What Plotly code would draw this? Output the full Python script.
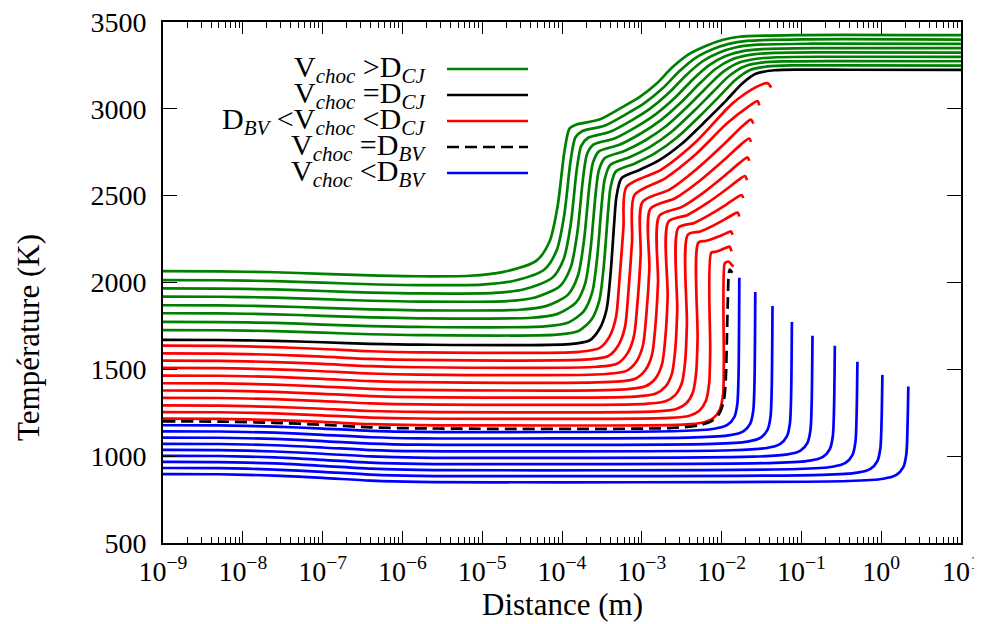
import plotly.graph_objects as go

# ---------------- data (log10 of distance in m, temperature in K) ----------------
early_lx = [-9.0, -8.3, -7.6, -7.0, -6.4, -5.8]

# V_choc > D_CJ (green)
green_early_T = [
    [2065, 2064, 2059, 2050, 2041, 2036],
    [2014, 2013, 2008, 1999, 1990, 1985],
    [1966, 1965, 1960, 1951, 1942, 1937],
    [1919, 1918, 1913, 1904, 1895, 1890],
    [1869, 1868, 1863, 1854, 1845, 1840],
    [1823, 1822, 1817, 1808, 1799, 1794],
    [1773, 1772, 1767, 1758, 1749, 1744],
    [1726, 1725, 1720, 1711, 1702, 1697],
]
green_lx = [
    [-5.158, -4.745, -4.319, -4.156, -4.056, -3.969, -3.906, -3.818, -3.531, -3.243, -3.030, -2.817, -2.617, -2.404, -2.191, -1.991, -1.778, -1.027, 1.0],
    [-5.002, -4.609, -4.221, -4.067, -3.973, -3.891, -3.833, -3.748, -3.468, -3.185, -2.963, -2.739, -2.533, -2.321, -2.113, -1.910, -1.684, -0.949, 1.0],
    [-4.845, -4.473, -4.122, -3.978, -3.890, -3.813, -3.759, -3.677, -3.406, -3.127, -2.896, -2.661, -2.448, -2.238, -2.035, -1.828, -1.590, -0.871, 1.0],
    [-4.689, -4.337, -4.024, -3.889, -3.807, -3.734, -3.686, -3.607, -3.343, -3.069, -2.828, -2.582, -2.364, -2.155, -1.956, -1.747, -1.496, -0.793, 1.0],
    [-4.532, -4.201, -3.925, -3.800, -3.725, -3.656, -3.612, -3.537, -3.281, -3.012, -2.761, -2.504, -2.279, -2.073, -1.878, -1.666, -1.403, -0.715, 1.0],
    [-4.376, -4.064, -3.827, -3.710, -3.642, -3.578, -3.539, -3.466, -3.218, -2.954, -2.694, -2.426, -2.195, -1.990, -1.800, -1.584, -1.309, -0.636, 1.0],
    [-4.219, -3.928, -3.728, -3.621, -3.559, -3.500, -3.465, -3.396, -3.155, -2.896, -2.627, -2.348, -2.110, -1.907, -1.722, -1.503, -1.215, -0.558, 1.0],
    [-4.063, -3.792, -3.630, -3.532, -3.476, -3.421, -3.392, -3.325, -3.093, -2.838, -2.559, -2.269, -2.026, -1.824, -1.643, -1.421, -1.121, -0.480, 1.0],
]
green_T = [
    [2039, 2060, 2126, 2236, 2436, 2756, 2886, 2910, 2938, 3010, 3067, 3144, 3239, 3316, 3363, 3396, 3415, 3425, 3424],
    [1988, 2009, 2075, 2185, 2385, 2705, 2835, 2871, 2902, 2972, 3034, 3118, 3215, 3295, 3343, 3374, 3391, 3400, 3399],
    [1940, 1961, 2027, 2137, 2337, 2657, 2787, 2832, 2866, 2934, 3001, 3092, 3192, 3274, 3323, 3353, 3368, 3375, 3374],
    [1893, 1914, 1980, 2090, 2290, 2610, 2740, 2794, 2829, 2896, 2968, 3065, 3168, 3252, 3303, 3331, 3344, 3350, 3349],
    [1843, 1864, 1930, 2040, 2240, 2560, 2690, 2755, 2793, 2858, 2935, 3039, 3144, 3231, 3283, 3309, 3321, 3325, 3324],
    [1797, 1818, 1884, 1994, 2194, 2514, 2644, 2716, 2757, 2819, 2901, 3013, 3120, 3210, 3263, 3287, 3297, 3300, 3299],
    [1747, 1768, 1834, 1944, 2144, 2464, 2594, 2677, 2721, 2781, 2868, 2987, 3097, 3189, 3243, 3266, 3273, 3275, 3274],
    [1700, 1721, 1787, 1897, 2097, 2417, 2547, 2639, 2684, 2743, 2835, 2960, 3073, 3167, 3223, 3244, 3250, 3250, 3249],
]

# V_choc = D_CJ (black)
black_early_T = [1670, 1669, 1664, 1656, 1647, 1642]
black_lx = [-3.906, -3.656, -3.531, -3.443, -3.393, -3.343, -3.318, -3.255, -3.030, -2.780, -2.492, -2.191, -1.941, -1.741, -1.565, -1.340, -1.027, -0.402, 1.0]
black_T = [1645, 1666, 1732, 1842, 2042, 2362, 2492, 2600, 2648, 2705, 2802, 2934, 3049, 3146, 3203, 3222, 3226, 3225, 3224]

# D_BV < V_choc < D_CJ (red)
red_early_T = [
    [1636, 1635, 1628, 1617, 1604, 1598],
    [1592, 1591, 1584, 1573, 1560, 1554],
    [1550, 1549, 1542, 1531, 1518, 1512],
    [1508, 1507, 1500, 1489, 1476, 1470],
    [1464, 1463, 1456, 1445, 1432, 1426],
    [1420, 1419, 1412, 1401, 1388, 1382],
    [1378, 1377, 1370, 1359, 1346, 1340],
    [1336, 1335, 1328, 1317, 1304, 1298],
    [1292, 1291, 1284, 1273, 1260, 1255],
    [1254, 1253, 1246, 1235, 1222, 1217],
    [1216, 1215, 1208, 1197, 1184, 1179],
]
red_lx = [
    [-3.781, -3.531, -3.405, -3.324, -3.283, -3.230, -3.193, -2.755, -2.310, -1.866, -1.569, -1.428, -1.378],
    [-3.668, -3.418, -3.293, -3.211, -3.170, -3.122, -3.092, -2.707, -2.320, -1.935, -1.673, -1.549, -1.528],
    [-3.556, -3.305, -3.180, -3.099, -3.057, -3.014, -2.992, -2.652, -2.311, -1.972, -1.741, -1.632, -1.603],
    [-3.443, -3.193, -3.067, -2.986, -2.945, -2.905, -2.892, -2.582, -2.273, -1.963, -1.752, -1.653, -1.632],
    [-3.330, -3.080, -2.955, -2.873, -2.832, -2.797, -2.780, -2.503, -2.226, -1.951, -1.763, -1.674, -1.653],
    [-3.205, -2.955, -2.830, -2.748, -2.707, -2.676, -2.667, -2.427, -2.187, -1.947, -1.783, -1.707, -1.682],
    [-3.080, -2.830, -2.704, -2.623, -2.582, -2.556, -2.542, -2.344, -2.146, -1.947, -1.813, -1.749, -1.728],
    [-2.955, -2.704, -2.579, -2.498, -2.457, -2.435, -2.423, -2.267, -2.111, -1.955, -1.850, -1.800, -1.778],
    [-2.817, -2.567, -2.442, -2.360, -2.319, -2.301, -2.291, -2.189, -2.087, -1.985, -1.915, -1.882, -1.862],
    [-2.654, -2.404, -2.279, -2.198, -2.156, -2.143, -2.129, -2.072, -2.016, -1.960, -1.921, -1.903, -1.875],
    [-2.479, -2.229, -2.104, -2.022, -1.981, -1.972, -1.962, -1.941, -1.916, -1.853],
]
red_T = [
    [1601, 1622, 1688, 1798, 1998, 2318, 2550, 2650, 2815, 3030, 3125, 3148, 3123],
    [1557, 1577, 1639, 1743, 1932, 2237, 2504, 2600, 2740, 2915, 3010, 3044, 3020],
    [1515, 1534, 1592, 1690, 1868, 2158, 2464, 2535, 2654, 2796, 2900, 2938, 2915],
    [1473, 1491, 1545, 1637, 1804, 2079, 2424, 2485, 2586, 2708, 2797, 2829, 2810],
    [1429, 1446, 1496, 1582, 1738, 1998, 2384, 2434, 2518, 2619, 2693, 2720, 2701],
    [1385, 1402, 1447, 1527, 1672, 1917, 2350, 2389, 2455, 2534, 2592, 2613, 2590],
    [1343, 1359, 1400, 1474, 1608, 1838, 2315, 2343, 2391, 2447, 2489, 2504, 2486],
    [1301, 1316, 1353, 1421, 1544, 1759, 2275, 2294, 2326, 2365, 2393, 2403, 2380],
    [1258, 1272, 1305, 1367, 1479, 1679, 2230, 2240, 2256, 2275, 2289, 2294, 2275],
    [1220, 1233, 1262, 1318, 1419, 1604, 2172, 2177, 2186, 2197, 2204, 2207, 2180],
    [1182, 1194, 1219, 1269, 1359, 1529, 2109, 2117, 2121, 2092],
]

# V_choc = D_BV (black dashed)
dashed_early_T = [1200, 1199, 1192, 1181, 1166, 1160]
dashed_lx = [-2.654, -2.279, -2.116, -2.029, -1.972, -1.947, -1.935, -1.922, -1.910, -1.897, -1.866]
dashed_T = [1162, 1178, 1205, 1245, 1320, 1450, 1650, 1900, 2050, 2075, 2056]

# V_choc < D_BV (blue)
blue_early_T = [
    [1178, 1177, 1170, 1159, 1146, 1140],
    [1143, 1142, 1135, 1123, 1109, 1103],
    [1107, 1106, 1099, 1087, 1072, 1066],
    [1071, 1070, 1063, 1050, 1035, 1029],
    [1036, 1035, 1027, 1014, 999, 992],
    [1002, 1001, 993, 979, 963, 956],
    [967, 966, 958, 944, 928, 921],
    [932, 931, 923, 910, 894, 887],
    [897, 896, 888, 875, 859, 852],
]
blue_lx = [
    [-2.529, -2.091, -1.928, -1.841, -1.803, -1.788, -1.778],
    [-2.329, -1.891, -1.728, -1.641, -1.603, -1.588, -1.578],
    [-2.113, -1.675, -1.512, -1.425, -1.387, -1.372, -1.362],
    [-1.870, -1.432, -1.269, -1.182, -1.144, -1.129, -1.119],
    [-1.612, -1.174, -1.011, -0.924, -0.886, -0.871, -0.861],
    [-1.332, -0.894, -0.731, -0.644, -0.606, -0.591, -0.581],
    [-1.049, -0.611, -0.448, -0.361, -0.323, -0.308, -0.298],
    [-0.736, -0.298, -0.135, -0.048, -0.010, 0.005, 0.015],
    [-0.411, 0.027, 0.190, 0.277, 0.315, 0.330, 0.340],
]
blue_T = [
    [1145, 1158, 1180, 1225, 1300, 1460, 2027],
    [1108, 1121, 1143, 1188, 1263, 1423, 1945],
    [1071, 1084, 1106, 1151, 1226, 1386, 1865],
    [1034, 1047, 1069, 1114, 1189, 1349, 1773],
    [997, 1010, 1032, 1077, 1152, 1312, 1693],
    [961, 974, 996, 1041, 1116, 1276, 1636],
    [926, 939, 961, 1006, 1081, 1241, 1544],
    [892, 905, 927, 972, 1047, 1207, 1468],
    [857, 870, 892, 937, 1012, 1172, 1401],
]

x_tick_exps = [-9, -8, -7, -6, -5, -4, -3, -2, -1, 0, 1]
x_tick_labels = ["10<sup>−9</sup>", "10<sup>−8</sup>", "10<sup>−7</sup>", "10<sup>−6</sup>",
                 "10<sup>−5</sup>", "10<sup>−4</sup>", "10<sup>−3</sup>", "10<sup>−2</sup>",
                 "10<sup>−1</sup>", "10<sup>0</sup>", "10<sup>1</sup>"]
y_ticks = [500, 1000, 1500, 2000, 2500, 3000, 3500]

legend_labels = [
    "V<sub><i>choc</i></sub> &gt;D<sub><i>CJ</i></sub>",
    "V<sub><i>choc</i></sub> =D<sub><i>CJ</i></sub>",
    "D<sub><i>BV</i></sub> &lt;V<sub><i>choc</i></sub> &lt;D<sub><i>CJ</i></sub>",
    "V<sub><i>choc</i></sub> =D<sub><i>BV</i></sub>",
    "V<sub><i>choc</i></sub> &lt;D<sub><i>BV</i></sub>",
]

# ---------------- styles ----------------
GREEN = "#008000"
RED = "#ff0000"
BLUE = "#0000ff"
BLACK = "#000000"
LW = 2.7
DASH = "12px,6px"
FONT = "Liberation Serif"

fig = go.Figure()


def add_curve(early_T, lx, T, color, dash="solid"):
    xs = [10 ** v for v in early_lx + lx]
    ys = early_T + T
    fig.add_trace(go.Scatter(x=xs, y=ys, mode="lines",
                             line=dict(color=color, width=LW, dash=dash,
                                       shape="spline", smoothing=0.75),
                             hoverinfo="skip", showlegend=False))


for e, lx, t in zip(green_early_T, green_lx, green_T):
    add_curve(e, lx, t, GREEN)
add_curve(black_early_T, black_lx, black_T, BLACK)
for e, lx, t in zip(red_early_T, red_lx, red_T):
    add_curve(e, lx, t, RED)
add_curve(dashed_early_T, dashed_lx, dashed_T, BLACK, DASH)
for e, lx, t in zip(blue_early_T, blue_lx, blue_T):
    add_curve(e, lx, t, BLUE)

# ---------------- layout ----------------
# the page body adds an 8 px offset; the figure is sized so the plot frame
# lands at screen x 163..961 and y 22..543
OFF = 8
W, H = 974, 616
ML, MT = 163 - OFF, 22 - OFF
pw, ph = 798, 521
MR = W - ML - pw
MB = H - MT - ph


def px_x(px):
    return (px - OFF - ML) / pw


def px_y(py):
    return (MT + ph - (py - OFF)) / ph


minor_vals = [k * 10 ** e for e in range(-9, 1) for k in range(2, 10)]

fig.update_layout(
    width=W, height=H,
    margin=dict(l=ML, r=MR, t=MT, b=MB, autoexpand=False),
    paper_bgcolor="white", plot_bgcolor="white",
    showlegend=False,
    font=dict(family=FONT, size=28, color="black"),
    xaxis=dict(
        type="log", range=[-9, 1], automargin=False,
        tickmode="array", tickvals=[10 ** e for e in x_tick_exps], ticktext=x_tick_labels,
        ticks="inside", ticklen=12, tickwidth=1.2, tickcolor="black",
        showline=True, linecolor="black", linewidth=2, mirror="ticks",
        showgrid=False, zeroline=False,
        tickfont=dict(family=FONT, size=28, color="black"),
        ticklabelstandoff=2, ticklabeloverflow="allow",
        minor=dict(tickmode="array", tickvals=minor_vals, ticks="inside", ticklen=6,
                   tickwidth=1.2, tickcolor="black", showgrid=False),
    ),
    yaxis=dict(
        range=[500, 3500], automargin=False,
        tickmode="array", tickvals=y_ticks,
        ticks="inside", ticklen=14, tickwidth=1.2, tickcolor="black",
        showline=True, linecolor="black", linewidth=2, mirror="ticks",
        showgrid=False, zeroline=False,
        tickfont=dict(family=FONT, size=28, color="black"),
        ticklabelstandoff=9, ticklabeloverflow="allow",
    ),
)

annotations = [
    dict(text="Distance (m)", x=px_x(562), y=px_y(604), xref="paper", yref="paper",
         xanchor="center", yanchor="middle", showarrow=False,
         font=dict(family=FONT, size=31, color="black")),
    dict(text="Température (K)", x=px_x(28), y=px_y(338), xref="paper", yref="paper",
         xanchor="center", yanchor="middle", textangle=-90, showarrow=False,
         font=dict(family=FONT, size=31, color="black")),
]
legend_y = [69, 95, 121, 147, 173]
legend_colors = [GREEN, BLACK, RED, BLACK, BLUE]
legend_dash = ["solid", "solid", "solid", "dash", "solid"]
shapes = []
for lab, yy, col, ds in zip(legend_labels, legend_y, legend_colors, legend_dash):
    annotations.append(dict(text=lab, x=px_x(428), y=px_y(yy), xref="paper", yref="paper",
                            xanchor="right", yanchor="middle", showarrow=False,
                            font=dict(family=FONT, size=30, color="black")))
    shapes.append(dict(type="line", xref="paper", yref="paper",
                       x0=px_x(447), x1=px_x(528), y0=px_y(yy), y1=px_y(yy),
                       line=dict(color=col, width=LW, dash=DASH if ds == "dash" else "solid")))

fig.update_layout(annotations=annotations, shapes=shapes)

fig.write_html("out.html")
